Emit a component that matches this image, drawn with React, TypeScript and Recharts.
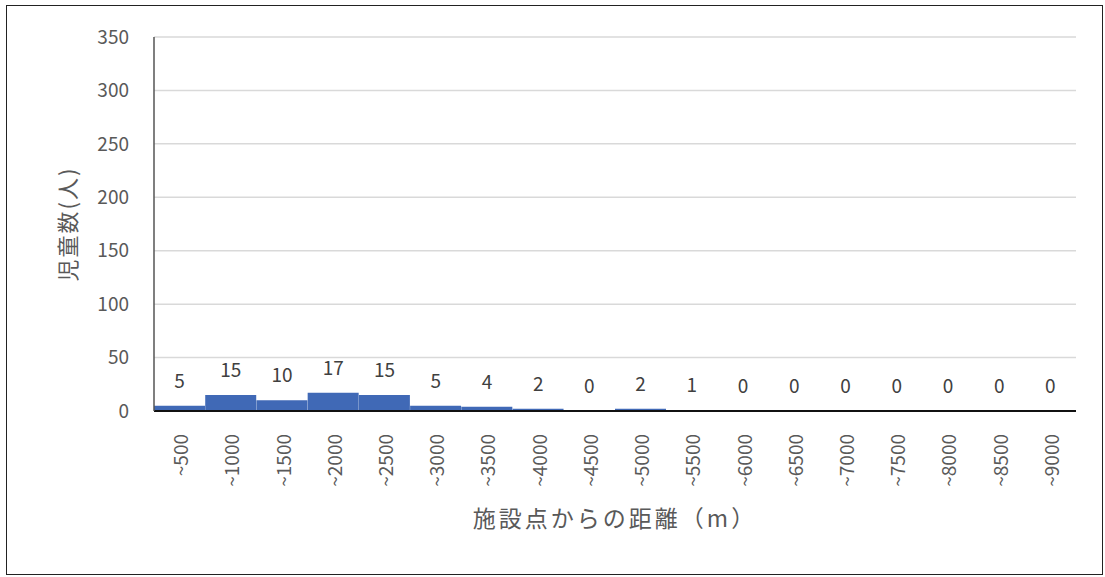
import React from 'react';
import { ComposedChart, Bar, Line, XAxis, YAxis, CartesianGrid, LabelList } from 'recharts';

const distances = ['~500', '~1000', '~1500', '~2000', '~2500', '~3000', '~3500', '~4000', '~4500',
  '~5000', '~5500', '~6000', '~6500', '~7000', '~7500', '~8000', '~8500', '~9000'];
const children = [5, 15, 10, 17, 15, 5, 4, 2, 0, 2, 1, 0, 0, 0, 0, 0, 0, 0];
const yTicks = [0, 50, 100, 150, 200, 250, 300, 350];

const data = distances.map((d, i) => ({ d, v: children[i] }));

const FONT = '"Noto Sans CJK JP", "Noto Sans", sans-serif';
const TEXT = '#595959';

function XTick({ x, y, payload }: any) {
  return (
    <text x={x} y={y + 15} transform={`rotate(-90, ${x}, ${y + 15})`} textAnchor="end"
      dominantBaseline="central" fill={TEXT} fontSize={19} fontFamily={FONT}>
      {payload.value}
    </text>
  );
}

// rotated axis title, centred on the plot height
function YTitle({ viewBox }: any) {
  const cx = 59;
  const cy = viewBox.y + viewBox.height / 2;
  return (
    <text x={cx} y={cy} transform={`rotate(-90, ${cx}, ${cy})`} textAnchor="middle"
      dominantBaseline="central" fill={TEXT} fontSize={22} letterSpacing={2} fontFamily={FONT}>
      児童数(人)
    </text>
  );
}

export default function App() {
  return (
    <div style={{
      position: 'absolute', left: 6, top: 5, width: 1095, height: 568,
      border: '1.5px solid #222', background: '#fff',
    }}>
      <ComposedChart width={1095} height={568} data={data}
        margin={{ top: 31, right: 26, bottom: 0, left: 0 }} barCategoryGap={0}>
        <CartesianGrid vertical={false} stroke="#d9d9d9" strokeWidth={1.5} />
        <XAxis dataKey="d" interval={0} height={163} tick={<XTick />} tickLine={false}
          axisLine={{ stroke: '#111', strokeWidth: 2 }}
          label={{ value: '施設点からの距離（m）', position: 'insideTop', offset: 100,
            fill: TEXT, fontSize: 23, letterSpacing: 3, fontFamily: FONT }} />
        <YAxis width={147} domain={[0, 350]} ticks={yTicks} tickLine={false} tickMargin={19}
          axisLine={{ stroke: '#555', strokeWidth: 1.5 }}
          tick={{ fill: TEXT, fontSize: 19, fontFamily: FONT }}
          label={<YTitle />} />
        <Bar dataKey="v" fill="#4069B6" isAnimationActive={false} />
        {/* invisible series that carries the value labels, including zeros */}
        <Line dataKey="v" stroke="none" dot={false} activeDot={false} isAnimationActive={false}>
          <LabelList dataKey="v" position="top" offset={18} fill="#404040" fontSize={19}
            fontFamily={FONT} />
        </Line>
      </ComposedChart>
    </div>
  );
}
